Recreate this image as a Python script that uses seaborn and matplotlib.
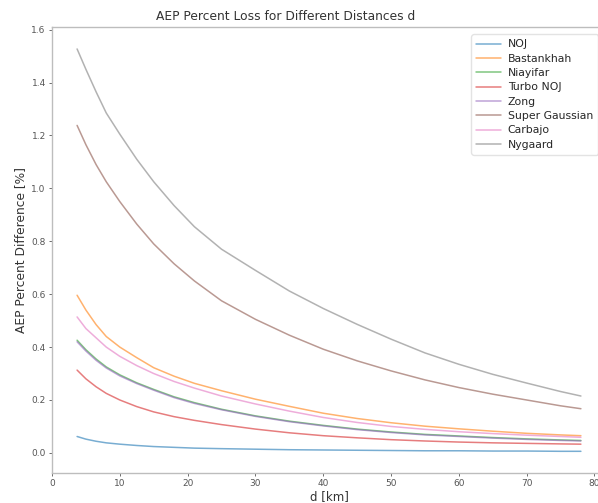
import matplotlib
matplotlib.use("Agg")
import matplotlib.pyplot as plt
import seaborn as sns
import pandas as pd

# Turbine spacing d [km]
distances = [3.7, 5, 6.5, 8, 10, 12.5, 15, 18, 21, 25, 30, 35, 40, 45, 50, 55, 60, 65, 70, 75, 78]

# AEP percent difference [%] for each wake model
noj = [0.062, 0.052, 0.044, 0.038, 0.033, 0.028, 0.024, 0.021, 0.018, 0.016, 0.014,
       0.012, 0.011, 0.010, 0.009, 0.008, 0.008, 0.007, 0.007, 0.006, 0.006]
bastankhah = [0.596, 0.540, 0.485, 0.440, 0.400, 0.360, 0.322, 0.290, 0.263, 0.235, 0.203,
              0.176, 0.150, 0.130, 0.114, 0.101, 0.091, 0.082, 0.074, 0.068, 0.065]
niayifar = [0.426, 0.390, 0.355, 0.325, 0.295, 0.265, 0.240, 0.212, 0.190, 0.165, 0.140,
            0.120, 0.104, 0.090, 0.079, 0.070, 0.064, 0.058, 0.053, 0.049, 0.047]
turbo_noj = [0.313, 0.280, 0.250, 0.225, 0.200, 0.175, 0.155, 0.137, 0.123, 0.107, 0.090,
             0.076, 0.065, 0.057, 0.050, 0.045, 0.041, 0.038, 0.036, 0.034, 0.033]
zong = [0.420, 0.385, 0.350, 0.321, 0.291, 0.262, 0.237, 0.209, 0.187, 0.163, 0.138,
        0.118, 0.102, 0.088, 0.077, 0.068, 0.062, 0.056, 0.051, 0.047, 0.045]
super_gaussian = [1.238, 1.165, 1.090, 1.025, 0.950, 0.865, 0.790, 0.715, 0.650, 0.575, 0.505,
                  0.445, 0.392, 0.348, 0.310, 0.276, 0.247, 0.222, 0.200, 0.178, 0.167]
carbajo = [0.514, 0.470, 0.435, 0.400, 0.365, 0.330, 0.300, 0.270, 0.245, 0.215, 0.185,
           0.158, 0.134, 0.115, 0.100, 0.089, 0.080, 0.073, 0.067, 0.062, 0.059]
nygaard = [1.527, 1.450, 1.365, 1.285, 1.205, 1.110, 1.025, 0.935, 0.855, 0.770, 0.690,
           0.612, 0.546, 0.486, 0.430, 0.378, 0.335, 0.297, 0.264, 0.232, 0.215]

models = ["NOJ", "Bastankhah", "Niayifar", "Turbo NOJ", "Zong",
          "Super Gaussian", "Carbajo", "Nygaard"]
series = [noj, bastankhah, niayifar, turbo_noj, zong, super_gaussian, carbajo, nygaard]

df = pd.concat(
    [pd.DataFrame({"d": distances, "loss": vals, "model": name})
     for name, vals in zip(models, series)],
    ignore_index=True,
)

sns.set_style("white")
plt.rcParams["font.family"] = ["DejaVu Sans"]

fig = plt.figure(figsize=(5.98, 5.03), dpi=100)
ax = fig.add_axes([52 / 598, 30 / 503, (606 - 52) / 598, (476 - 30) / 503])

palette = sns.color_palette("tab10", len(models))
sns.lineplot(data=df, x="d", y="loss", hue="model", hue_order=models,
             palette=palette, linewidth=1.1, alpha=0.6, ax=ax, legend=True)

ax.set_xlim(0, 81.7)
ax.set_ylim(-0.076, 1.61)
ax.set_xticks(range(0, 81, 10))
ax.set_yticks([0.0, 0.2, 0.4, 0.6, 0.8, 1.0, 1.2, 1.4, 1.6])
ax.set_yticklabels([f"{v:.1f}" for v in ax.get_yticks()])
ax.tick_params(axis="both", labelsize=6.5, colors="#555555", length=2.5, width=0.6,
               direction="out", left=True, bottom=True, pad=2)
for sp in ax.spines.values():
    sp.set_color("#bdbdbd")
    sp.set_linewidth(1.0)

ax.set_title("AEP Percent Loss for Different Distances d", fontsize=8.8,
             color="#333333", x=0.422, pad=5)
ax.set_xlabel("d [km]", fontsize=8.5, color="#333333", labelpad=1)
ax.set_ylabel("AEP Percent Difference [%]", fontsize=8.8, color="#333333", labelpad=3)

handles, labels = ax.get_legend_handles_labels()
ax.legend(handles, labels, loc="upper left",
          bbox_to_anchor=(466 / 598, 1 - 29 / 503), bbox_transform=fig.transFigure,
          fontsize=7.8, frameon=True, edgecolor="#dddddd", handlelength=2.3,
          labelspacing=0.4, borderpad=0.45, handletextpad=0.6)

fig.savefig("out.png", dpi=100)
